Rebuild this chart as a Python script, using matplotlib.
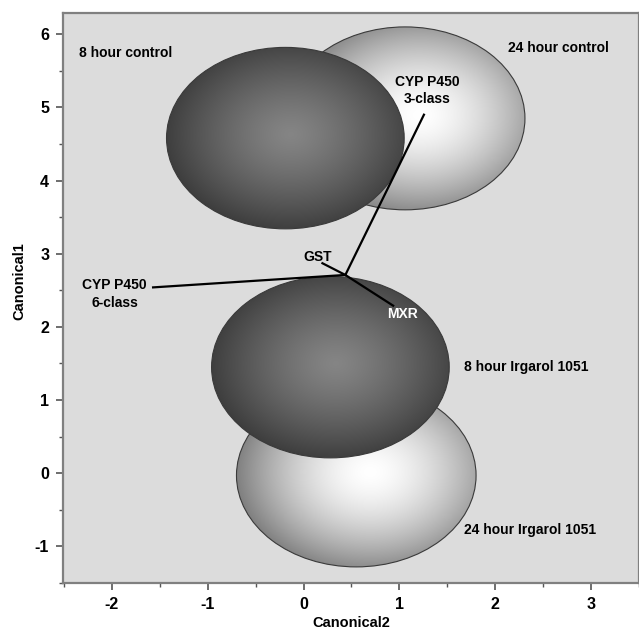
import numpy as np
import matplotlib
matplotlib.use("Agg")
import matplotlib.pyplot as plt
from matplotlib.patches import Ellipse

plt.rcParams['font.family'] = ['Liberation Sans', 'DejaVu Sans']
plt.rcParams['font.weight'] = 'bold'
plt.rcParams['axes.unicode_minus'] = False

# group confidence circles (Canonical2, Canonical1)
groups = ["8 hour control", "24 hour control", "8 hour Irgarol 1051", "24 hour Irgarol 1051"]
cx = [-0.19, 1.06, 0.28, 0.55]
cy = [4.58, 4.85, 1.45, -0.03]
radius = [1.24, 1.25, 1.24, 1.25]
shade = ["dark", "light", "dark", "light"]

# label positions for the groups
lab_x = [-2.34, 2.13, 1.67, 1.67]
lab_y = [5.75, 5.81, 1.45, -0.77]

# biplot rays
ray_origin = (0.436, 2.71)
ray_names = ["CYP P450\n3-class", "CYP P450\n6-class", "GST", "MXR"]
ray_x = [1.256, -1.57, 0.197, 0.935]
ray_y = [4.90, 2.54, 2.87, 2.29]
ray_lab_x = [1.29, -1.97, 0.145, 1.03]
ray_lab_y = [5.23, 2.45, 2.96, 2.17]
ray_lab_col = ["black", "black", "black", "white"]

fig = plt.figure(figsize=(6.39, 6.30), dpi=100)
ax = fig.add_axes([63 / 639, 47 / 630, 576 / 639, 570 / 630])
ax.set_facecolor('#dcdcdc')
ax.set_xlim(-2.51, 3.48)
ax.set_ylim(-1.5, 6.29)

# draw light (24 h) first so dark (8 h) overlaps them
order = [1, 0, 3, 2]
for k, i in enumerate(order):
    r = radius[i]
    if shade[i] == "dark":
        hx, hy = cx[i] + 0.05, cy[i] + 0.05
        c0, c1, p = 0.52, 0.22, 1.3
    else:
        hx, hy = cx[i] + 0.15, cy[i] + 0.05
        c0, c1, p = 1.0, 0.50, 1.6
    gx = np.linspace(cx[i] - r, cx[i] + r, 300)
    gy = np.linspace(cy[i] - r, cy[i] + r, 300)
    X, Y = np.meshgrid(gx, gy)
    d = np.sqrt((X - hx) ** 2 + (Y - hy) ** 2) / (r + 0.15)
    d = np.clip(d, 0, 1)
    val = c0 + (c1 - c0) * d ** p
    img = np.dstack([val, val, val])
    e = Ellipse((cx[i], cy[i]), 2 * r, 2 * r, facecolor='none',
                edgecolor='#3a3a3a', lw=0.8, zorder=2 + 2 * k + 1)
    ax.add_patch(e)
    im = ax.imshow(img, extent=(cx[i] - r, cx[i] + r, cy[i] - r, cy[i] + r),
                   origin='lower', aspect='auto', zorder=2 + 2 * k,
                   interpolation='bilinear')
    im.set_clip_path(e)

for i in range(len(groups)):
    ax.text(lab_x[i], lab_y[i], groups[i], fontsize=10, fontweight='bold',
            ha='left', va='center', zorder=20)

for i in range(len(ray_names)):
    ax.plot([ray_origin[0], ray_x[i]], [ray_origin[1], ray_y[i]],
            color='black', lw=1.6, zorder=15)
    ax.text(ray_lab_x[i], ray_lab_y[i], ray_names[i], fontsize=10,
            fontweight='bold', ha='center', va='center',
            color=ray_lab_col[i], linespacing=1.3, zorder=20)

ax.set_xticks([-2, -1, 0, 1, 2, 3])
ax.set_xticks(np.arange(-2.5, 3.6, 1.0), minor=True)
ax.set_yticks([-1, 0, 1, 2, 3, 4, 5, 6])
ax.set_yticks(np.arange(-1.5, 6.3, 1.0), minor=True)
ax.tick_params(which='major', length=5, width=1.2, color='#555555',
               labelsize=11.5, pad=5)
ax.tick_params(which='minor', length=3, width=1.0, color='#555555')
for lab in ax.get_xticklabels() + ax.get_yticklabels():
    lab.set_fontweight('bold')
for s in ax.spines.values():
    s.set_color('#808080')
    s.set_linewidth(1.6)

fig.text(351 / 639, 1 - 616 / 630, "Canonical2", fontsize=10.5,
         fontweight='bold', ha='center', va='top')
fig.text(19 / 639, 1 - 281 / 630, "Canonical1", fontsize=10.5,
         fontweight='bold', ha='center', va='center', rotation=90)

fig.savefig("out.png", dpi=100)
